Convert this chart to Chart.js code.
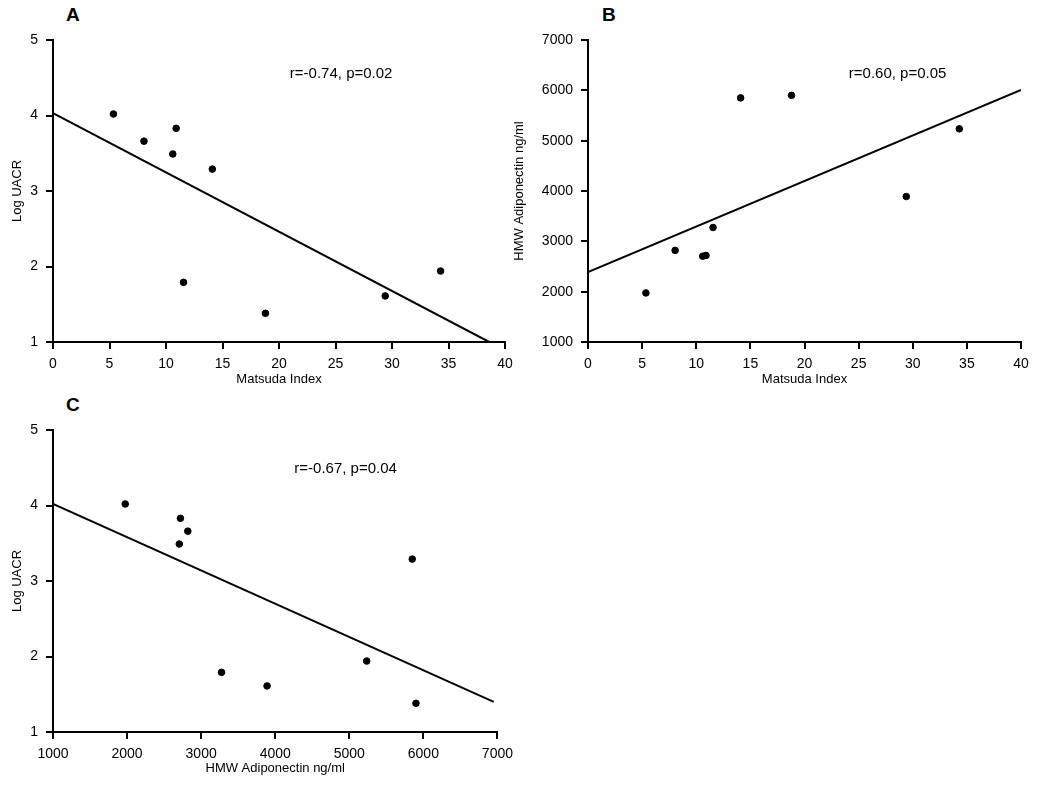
<!DOCTYPE html>
<html>
<head>
<meta charset="utf-8">
<script src="https://cdn.jsdelivr.net/npm/chart.js@4.4.1/dist/chart.umd.min.js"></script>
<style>
  body { margin: 0; background: #fff; width: 1050px; height: 789px; position: relative; overflow: hidden; }
  .panel { position: absolute; }
  .letter { position: absolute; font: bold 19px "Liberation Sans Narrow", "Liberation Sans", Arial, sans-serif; color: #000; }
</style>
</head>
<body>
<div class="letter" style="left:66px; top:4px;">A</div>
<div class="letter" style="left:602px; top:4px;">B</div>
<div class="letter" style="left:66px; top:394px;">C</div>

<div class="panel" style="left:0; top:0; width:520px; height:390px;"><canvas id="chartA"></canvas></div>
<div class="panel" style="left:500px; top:0; width:550px; height:390px;"><canvas id="chartB"></canvas></div>
<div class="panel" style="left:0; top:390px; width:520px; height:399px;"><canvas id="chartC"></canvas></div>

<script>
// Per-subject values (same 9 subjects in every panel)
const matsuda = [5.35, 8.05, 10.6, 10.9, 11.55, 14.1, 18.8, 29.4, 34.3];
const logUACR = [4.02, 3.66, 3.49, 3.83, 1.79, 3.29, 1.38, 1.61, 1.94];
const hmwAdipo = [1975, 2820, 2705, 2720, 3275, 5850, 5900, 3890, 5235];

// Regression line end points
const fitA_x = [0, 38.6];
const fitA_y = [4.03, 1.0];
const fitB_x = [0, 40];
const fitB_y = [2390, 6010];
const fitC_x = [1000, 6950];
const fitC_y = [4.02, 1.40];

// Tick labels
const matsudaTicks = [0, 5, 10, 15, 20, 25, 30, 35, 40];
const uacrTicks = [1, 2, 3, 4, 5];
const hmwTicks = [1000, 2000, 3000, 4000, 5000, 6000, 7000];

const FONT = '"Liberation Sans", Arial, sans-serif';

function pts(xs, ys) {
    return xs.map((x, i) => ({ x: x, y: ys[i] }));
}

// text like "r=-0.74, p=0.02" placed in data coordinates
const notePlugin = {
    id: 'note',
    afterDatasetsDraw(chart, args, opts) {
        const { ctx, scales } = chart;
        ctx.save();
        ctx.font = '15px ' + FONT;
        ctx.fillStyle = '#000';
        ctx.textAlign = 'center';
        ctx.textBaseline = 'middle';
        ctx.fillText(opts.text, scales.x.getPixelForValue(opts.x), scales.y.getPixelForValue(opts.y));
        ctx.restore();
    }
};

function axis(ticks, title, o) {
    return {
        type: 'linear',
        min: ticks[0],
        max: ticks[ticks.length - 1],
        afterBuildTicks: s => { s.ticks = ticks.map(v => ({ value: v })); },
        afterFit: s => {
            if (s.isHorizontal()) s.height = o.size; else s.width = o.size;
        },
        grid: { display: true, drawOnChartArea: false, drawTicks: true, tickLength: 7, color: '#000', lineWidth: 2 },
        border: { display: true, color: '#000', width: 2 },
        ticks: {
            color: '#000',
            font: { family: FONT, size: 14 },
            padding: o.tickPad,
            autoSkip: false,
            maxRotation: 0,
            callback: v => String(v)
        },
        title: { display: true, text: title, color: '#000', font: { family: FONT, size: 13 }, padding: o.titlePad }
    };
}

function makeChart(id, points, fit, xAxis, yAxis, padding, note) {
    return new Chart(document.getElementById(id), {
        type: 'scatter',
        data: {
            datasets: [
                {
                    data: points,
                    backgroundColor: '#000',
                    borderColor: '#000',
                    pointRadius: 3.3,
                    pointHoverRadius: 3.3
                },
                {
                    type: 'line',
                    data: fit,
                    borderColor: '#000',
                    borderWidth: 2,
                    pointRadius: 0,
                    fill: false,
                    tension: 0
                }
            ]
        },
        options: {
            responsive: true,
            maintainAspectRatio: false,
            animation: false,
            layout: { padding: padding },
            plugins: {
                legend: { display: false },
                tooltip: { enabled: false },
                note: note
            },
            scales: { x: xAxis, y: yAxis }
        },
        plugins: [notePlugin]
    });
}

// Panel A: Log UACR vs Matsuda Index
makeChart('chartA',
    pts(matsuda, logUACR), pts(fitA_x, fitA_y),
    axis(matsudaTicks, 'Matsuda Index', { size: 48, tickPad: 7, titlePad: { top: 0, bottom: 3 } }),
    axis(uacrTicks, 'Log UACR', { size: 53, tickPad: 8, titlePad: { top: 10, bottom: 0 } }),
    { top: 40, right: 15, left: 0, bottom: 0 },
    { text: 'r=-0.74, p=0.02', x: 25.5, y: 4.55 }
);

// Panel B: HMW Adiponectin vs Matsuda Index
makeChart('chartB',
    pts(matsuda, hmwAdipo), pts(fitB_x, fitB_y),
    axis(matsudaTicks, 'Matsuda Index', { size: 48, tickPad: 7, titlePad: { top: 0, bottom: 3 } }),
    axis(hmwTicks, 'HMW Adiponectin ng/ml', { size: 88, tickPad: 8, titlePad: { top: 12, bottom: 0 } }),
    { top: 40, right: 29, left: 0, bottom: 0 },
    { text: 'r=0.60, p=0.05', x: 28.6, y: 6325 }
);

// Panel C: Log UACR vs HMW Adiponectin
makeChart('chartC',
    pts(hmwAdipo, logUACR), pts(fitC_x, fitC_y),
    axis(hmwTicks, 'HMW Adiponectin ng/ml', { size: 57, tickPad: 7, titlePad: { top: 0, bottom: 13 } }),
    axis(uacrTicks, 'Log UACR', { size: 53, tickPad: 8, titlePad: { top: 10, bottom: 0 } }),
    { top: 40, right: 17, left: 0, bottom: 0 },
    { text: 'r=-0.67, p=0.04', x: 4950, y: 4.48 }
);
</script>
</body>
</html>
